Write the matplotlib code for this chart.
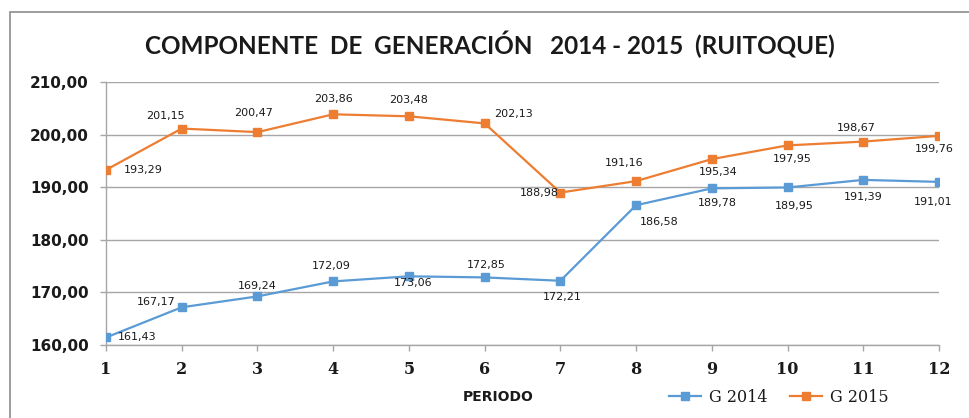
import matplotlib
matplotlib.use("Agg")
import matplotlib.pyplot as plt
from matplotlib.ticker import FuncFormatter, FixedLocator
from matplotlib.patches import Rectangle
from matplotlib.lines import Line2D

periodos = [1, 2, 3, 4, 5, 6, 7, 8, 9, 10, 11, 12]
g2014 = [161.43, 167.17, 169.24, 172.09, 173.06, 172.85, 172.21, 186.58, 189.78, 189.95, 191.39, 191.01]
g2015 = [193.29, 201.15, 200.47, 203.86, 203.48, 202.13, 188.98, 191.16, 195.34, 197.95, 198.67, 199.76]
yticks = [160, 170, 180, 190, 200, 210]
series_names = ["G 2014", "G 2015"]
title = "COMPONENTE  DE  GENERACIÓN   2014 - 2015  (RUITOQUE)"
xlabel = "PERIODO"

# label offsets in pixels (dx right, dy down)
off2014 = [(31, 0), (-26, -5), (0, -10), (-2, -15), (4, 7), (2, -12), (2, 16),
           (23, 17), (6, 15), (7, 19), (0, 17), (-6, 20)]
off2015 = [(37, 0), (-16, -13), (-4, -19), (0, -15), (0, -16), (29, -9), (-21, 0),
           (-12, -18), (6, 13), (5, 14), (-7, -14), (-5, 13)]

BLUE = "#5B9BD5"
ORANGE = "#ED7D31"
GRID = "#A6A6A6"

W, H = 969, 418
fig = plt.figure(figsize=(W / 100, H / 100), dpi=100)
fig.patch.set_facecolor("white")

# outer chart frame (runs off the right and bottom edges)
fig.add_artist(Rectangle((10 / W, -0.1), 1.2, (H - 12) / H + 0.1, transform=fig.transFigure,
                         fill=False, edgecolor="#8C8C8C", linewidth=1.2, clip_on=False))

ax = fig.add_axes([106 / W, 1 - 345 / H, (939 - 106) / W, (345 - 82) / H])
ax.set_xlim(1, 12)
ax.set_ylim(160, 210)

fmt = lambda v: f"{v:.2f}".replace(".", ",")

ax.plot(periodos, g2014, color=BLUE, lw=1.6, marker="s", ms=6, zorder=3)
ax.plot(periodos, g2015, color=ORANGE, lw=1.6, marker="s", ms=6, zorder=3)

for x, v, (dx, dy) in zip(periodos, g2014, off2014):
    ax.annotate(fmt(v), (x, v), xytext=(dx * 0.72, -dy * 0.72), textcoords="offset points",
                ha="center", va="center", fontsize=8, color="#1a1a1a", family="DejaVu Sans",
                annotation_clip=False, zorder=4)
for x, v, (dx, dy) in zip(periodos, g2015, off2015):
    ax.annotate(fmt(v), (x, v), xytext=(dx * 0.72, -dy * 0.72), textcoords="offset points",
                ha="center", va="center", fontsize=8, color="#1a1a1a", family="DejaVu Sans",
                annotation_clip=False, zorder=4)

ax.yaxis.set_major_locator(FixedLocator(yticks))
ax.yaxis.set_major_formatter(FuncFormatter(lambda v, p: fmt(v)))
ax.xaxis.set_major_locator(FixedLocator(periodos))
ax.grid(axis="y", color=GRID, lw=1.0)
ax.set_axisbelow(True)
for s in ["top", "right"]:
    ax.spines[s].set_visible(False)
for s in ["left", "bottom"]:
    ax.spines[s].set_color(GRID)
    ax.spines[s].set_linewidth(1.0)
ax.tick_params(axis="both", direction="out", length=4.5, color=GRID, width=1.0)
ax.tick_params(axis="y", pad=8)
ax.tick_params(axis="x", pad=7)
for lab in ax.get_yticklabels():
    lab.set_fontweight("bold")
    lab.set_fontsize(11)
    lab.set_family("DejaVu Sans")
    lab.set_color("#1a1a1a")
for lab in ax.get_xticklabels():
    lab.set_fontweight("bold")
    lab.set_fontsize(11.5)
    lab.set_family("DejaVu Serif")
    lab.set_color("#1a1a1a")

fig.text(490 / W, 1 - 44 / H, title, ha="center", va="center", fontsize=17.5,
         family="Lato", fontweight="bold", color="#1a1a1a")
fig.text(498 / W, 1 - 397 / H, xlabel, ha="center", va="center", fontsize=10,
         family="DejaVu Sans", fontweight="bold", color="#1a1a1a")

handles = [Line2D([], [], color=BLUE, lw=1.6, marker="s", ms=6),
           Line2D([], [], color=ORANGE, lw=1.6, marker="s", ms=6)]
leg = fig.legend(handles, series_names, loc="center", bbox_to_anchor=(779 / W, 1 - 397 / H),
                 ncol=2, frameon=False, handlelength=2.0, handletextpad=0.5, columnspacing=1.4,
                 prop={"family": "DejaVu Serif", "size": 11.5})
for t in leg.get_texts():
    t.set_color("#1a1a1a")

fig.savefig("out.png", dpi=100)
